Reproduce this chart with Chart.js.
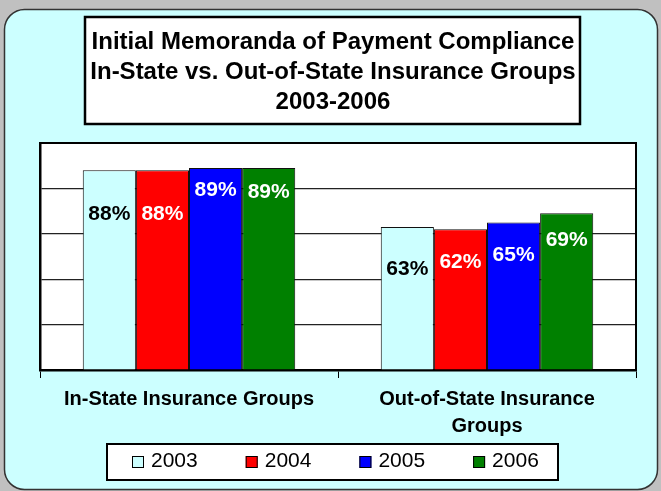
<!DOCTYPE html>
<html>
<head>
<meta charset="utf-8">
<script src="https://cdn.jsdelivr.net/npm/chart.js@4.4.1/dist/chart.umd.min.js"></script>
<style>
  html, body { margin: 0; padding: 0; background: #c0c0c0; }
  #wrap { width: 661px; height: 491px; }
</style>
</head>
<body>
<div id="wrap"><canvas id="chart" width="661" height="491"></canvas></div>
<script>
// ---- data ----
const categories = [["In-State Insurance Groups"], ["Out-of-State Insurance", "Groups"]];
const years = ["2003", "2004", "2005", "2006"];
const values2003 = [88, 63];
const values2004 = [88, 62];
const values2005 = [89, 65];
const values2006 = [89, 69];
const titleLines = [
  "Initial Memoranda of Payment Compliance",
  "In-State vs. Out-of-State Insurance Groups",
  "2003-2006"
];

const FONT = '"Liberation Sans", Arial, sans-serif';
const barColors = ["#ccffff", "#ff0000", "#0000ff", "#008000"];

// background panel, title box and white plot area
const framePlugin = {
  id: "frame",
  beforeDraw(chart) {
    const ctx = chart.ctx;
    const a = chart.chartArea;
    ctx.save();
    ctx.beginPath();
    ctx.roundRect(4.5, 9.5, 653, 480, 20);
    ctx.fillStyle = "#ccffff";
    ctx.fill();
    ctx.lineWidth = 1.5;
    ctx.strokeStyle = "#333";
    ctx.stroke();

    // title box
    ctx.fillStyle = "#fff";
    ctx.fillRect(85, 17, 495, 107);
    ctx.lineWidth = 2.5;
    ctx.strokeStyle = "#000";
    ctx.strokeRect(85, 17, 495, 107);
    ctx.fillStyle = "#000";
    ctx.font = "bold 24px " + FONT;
    ctx.textAlign = "center";
    ctx.textBaseline = "middle";
    titleLines.forEach((t, i) => ctx.fillText(t, 333, 42 + i * 30));

    // plot area
    ctx.fillStyle = "#fff";
    ctx.fillRect(a.left, a.top, a.right - a.left, a.bottom - a.top);
    ctx.restore();
  },
  afterDraw(chart) {
    const ctx = chart.ctx;
    const a = chart.chartArea;
    ctx.save();
    ctx.strokeStyle = "#000";
    ctx.lineWidth = 2;
    ctx.beginPath();
    ctx.moveTo(a.left, a.top);
    ctx.lineTo(a.right, a.top);
    ctx.lineTo(a.right, a.bottom);
    ctx.stroke();

    // legend box
    ctx.fillStyle = "#fff";
    ctx.fillRect(107, 444, 451, 36);
    ctx.lineWidth = 2;
    ctx.strokeRect(107, 444, 451, 36);
    ctx.font = "21px " + FONT;
    ctx.textAlign = "left";
    ctx.textBaseline = "middle";
    chart.data.datasets.forEach((ds, i) => {
      const x = 132 + i * 113.7;
      ctx.fillStyle = ds.backgroundColor;
      ctx.fillRect(x, 456, 12, 12);
      ctx.lineWidth = 1;
      ctx.strokeStyle = "#000";
      ctx.strokeRect(x + 0.5, 456.5, 11, 11);
      ctx.fillStyle = "#000";
      ctx.fillText(ds.label, x + 19, 461);
    });
    ctx.restore();
  }
};

// percentage labels inside the bars
const valueLabels = {
  id: "valueLabels",
  afterDatasetsDraw(chart, args, opts) {
    const ctx = chart.ctx;
    ctx.save();
    ctx.font = "bold 21px " + FONT;
    ctx.textAlign = "center";
    ctx.textBaseline = "middle";
    chart.data.datasets.forEach((ds, di) => {
      chart.getDatasetMeta(di).data.forEach((bar, i) => {
        ctx.fillStyle = opts.colors[di];
        ctx.fillText(ds.data[i] + "%", bar.x, bar.y + opts.drop[di][i]);
      });
    });
    ctx.restore();
  }
};

const seriesValues = [values2003, values2004, values2005, values2006];

new Chart(document.getElementById("chart"), {
  type: "bar",
  data: {
    labels: categories,
    datasets: years.map((y, i) => ({
      label: y,
      data: seriesValues[i],
      backgroundColor: barColors[i],
      borderColor: "#111",
      borderWidth: 1,
      categoryPercentage: 0.713,
      barPercentage: 1
    }))
  },
  options: {
    responsive: false,
    animation: false,
    devicePixelRatio: 1,
    layout: { padding: { left: 40, right: 25, top: 143, bottom: 1 } },
    plugins: {
      legend: { display: false },
      title: { display: false },
      tooltip: { enabled: false },
      valueLabels: {
        colors: ["#000", "#fff", "#fff", "#fff"],
        drop: [[44, 42], [44, 33], [22, 33], [24, 27]]
      }
    },
    scales: {
      x: {
        afterFit(scale) { scale.height = 120; },
        border: { display: true, color: "#000", width: 2.5 },
        grid: { drawOnChartArea: false, drawTicks: true, tickLength: 8, color: "#000", offset: true },
        ticks: {
          color: "#000",
          padding: 8,
          maxRotation: 0,
          font: { family: FONT, size: 20, weight: "bold", lineHeight: 1.35 }
        }
      },
      y: {
        min: 0,
        max: 100,
        afterFit(scale) { scale.width = 0; },
        border: { display: true, color: "#000", width: 2.5 },
        grid: { color: "#222", lineWidth: 1.2, drawTicks: false },
        ticks: { display: false, stepSize: 20 }
      }
    }
  },
  plugins: [framePlugin, valueLabels]
});
</script>
</body>
</html>
